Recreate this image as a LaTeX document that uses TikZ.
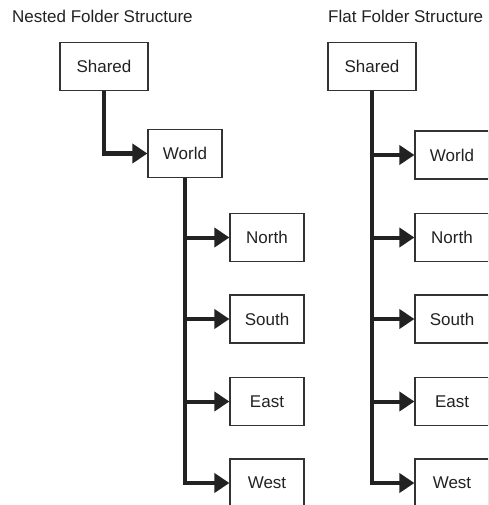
\documentclass[tikz,border=0pt]{standalone}
\usepackage{fontspec}
\setmainfont{Liberation Sans}
\usetikzlibrary{arrows.meta}
\definecolor{ink}{HTML}{222222}
\definecolor{boxline}{HTML}{333333}
\tikzset{
  folder/.style={draw=boxline, line width=1.2pt, fill=white, minimum width=74pt,
    minimum height=48pt, inner sep=0pt, text=ink, font=\fontsize{17}{20}\selectfont},
  rootfolder/.style={folder, minimum width=88pt},
  title/.style={anchor=base west, inner sep=0pt, text=ink, font=\fontsize{17}{20}\selectfont},
  link/.style={draw=ink, line width=4pt, -{Triangle[length=15pt,width=19pt]}},
}
\begin{document}
\begin{tikzpicture}[x=1pt,y=-1pt]
  \useasboundingbox (0,0) rectangle (488,505);
  \clip (0,0) rectangle (488,505);

  % nested layout
  \node[title] (nestedtitle) at (12,23) {Nested Folder Structure};
  \node[rootfolder] (nshared) at (104,66.5) {Shared};
  \node[folder] (nworld) at (185,153.5) {World};
  \node[folder] (nnorth) at (267,237.5) {North};
  \node[folder] (nsouth) at (267,319) {South};
  \node[folder] (neast) at (267,401.5) {East};
  \node[folder] (nwest) at (267,483) {West};

  \draw[link] (nshared.south) |- (nworld.west);
  \draw[link] (nworld.south) |- (nnorth.west);
  \draw[link] (nworld.south) |- (nsouth.west);
  \draw[link] (nworld.south) |- (neast.west);
  \draw[link] (nworld.south) |- (nwest.west);

  % flat layout
  \node[title] (flattitle) at (328,23) {Flat Folder Structure};
  \node[rootfolder] (fshared) at (372,66.5) {Shared};
  \node[folder] (fworld) at (452,155) {World};
  \node[folder] (fnorth) at (452,237.5) {North};
  \node[folder] (fsouth) at (452,319) {South};
  \node[folder] (feast) at (452,401.5) {East};
  \node[folder] (fwest) at (452,483) {West};

  \draw[link] (fshared.south) |- (fworld.west);
  \draw[link] (fshared.south) |- (fnorth.west);
  \draw[link] (fshared.south) |- (fsouth.west);
  \draw[link] (fshared.south) |- (feast.west);
  \draw[link] (fshared.south) |- (fwest.west);
\end{tikzpicture}
\end{document}
